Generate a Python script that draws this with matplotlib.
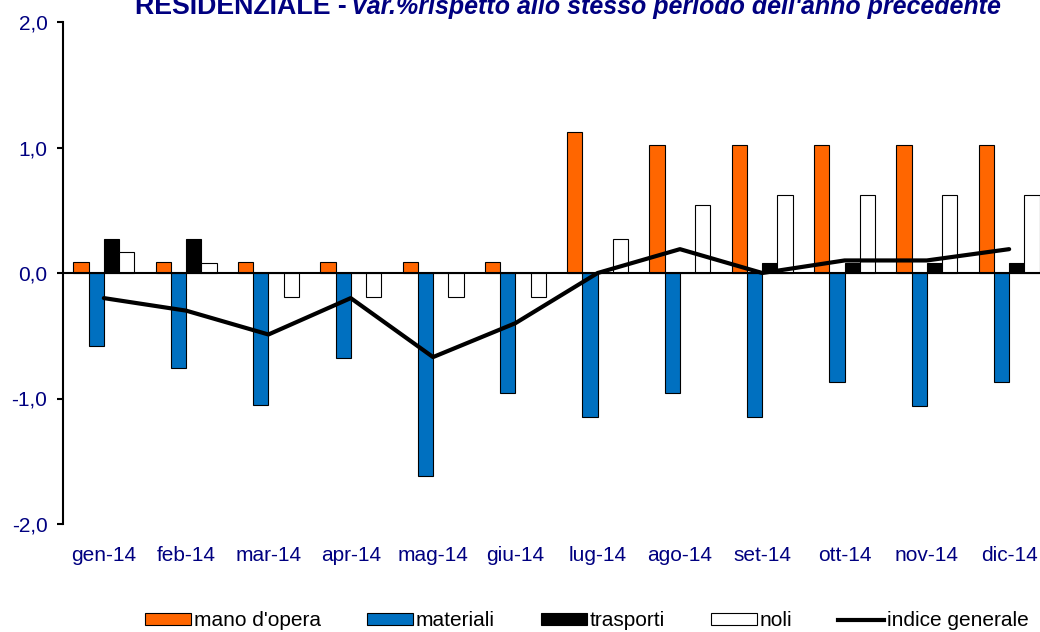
import numpy as np
import matplotlib
matplotlib.use("Agg")
import matplotlib.pyplot as plt
from matplotlib.patches import Patch
from matplotlib.lines import Line2D

plt.rcParams['font.family'] = ['Liberation Sans', 'DejaVu Sans']

months = ["gen-14", "feb-14", "mar-14", "apr-14", "mag-14", "giu-14",
          "lug-14", "ago-14", "set-14", "ott-14", "nov-14", "dic-14"]

# valori (var. % sullo stesso periodo dell'anno precedente)
mano_opera = [0.09, 0.09, 0.09, 0.09, 0.09, 0.09, 1.12, 1.02, 1.02, 1.02, 1.02, 1.02]
materiali = [-0.58, -0.76, -1.05, -0.68, -1.62, -0.96, -1.15, -0.96, -1.15, -0.87, -1.06, -0.87]
trasporti = [0.27, 0.27, 0.0, 0.0, 0.0, 0.0, 0.0, 0.0, 0.08, 0.08, 0.08, 0.08]
noli = [0.17, 0.08, -0.19, -0.19, -0.19, -0.19, 0.27, 0.54, 0.62, 0.62, 0.62, 0.62]
indice = [-0.2, -0.3, -0.49, -0.2, -0.67, -0.4, 0.0, 0.19, 0.0, 0.1, 0.1, 0.19]

yticks = [-2.0, -1.0, 0.0, 1.0, 2.0]

NAVY = "#000080"
ORANGE = "#FF6600"
BLUE = "#0070C0"
FS = 15

fig = plt.figure(figsize=(10.4, 6.32), dpi=100)
ax = fig.add_axes([62.7 / 1040, 1 - 524 / 632, 987.6 / 1040, 502 / 632])

x = np.arange(len(months))
w = 0.185
edge = dict(edgecolor="black", linewidth=0.8, zorder=2)
ax.bar(x - 1.5 * w, mano_opera, w, color=ORANGE, **edge)
ax.bar(x - 0.5 * w, materiali, w, color=BLUE, **edge)
ax.bar(x + 0.5 * w, trasporti, w, color="black", **edge)
ax.bar(x + 1.5 * w, noli, w, color="white", **edge)

ax.axhline(0, color="black", linewidth=1.5, zorder=3)
ax.plot(x, indice, color="black", linewidth=3, zorder=4, solid_capstyle="round")

ax.set_xlim(-0.5, len(months) - 0.5)
ax.set_ylim(-2.0, 2.0)
ax.set_yticks(yticks)
ax.set_yticklabels([f"{v:.1f}".replace(".", ",") for v in yticks])
ax.set_xticks(x)
ax.set_xticklabels(months)

for s in ["top", "right", "bottom"]:
    ax.spines[s].set_visible(False)
ax.spines["left"].set_linewidth(1.5)
ax.tick_params(axis="y", direction="out", length=4, width=1.5, pad=7,
               labelsize=FS, labelcolor=NAVY)
ax.tick_params(axis="x", length=0, pad=16, labelsize=FS, labelcolor=NAVY)

# titolo (tagliato in alto come nell'originale)
fig.text(347 / 1040, 1 - 14 / 632, "RESIDENZIALE -", color=NAVY,
         fontsize=19.3, fontweight="bold", ha="right", va="baseline")
fig.text(351 / 1040, 1 - 14 / 632,
         "Var.%rispetto allo stesso periodo dell'anno precedente",
         color=NAVY, fontsize=18, fontweight="bold", fontstyle="italic",
         ha="left", va="baseline")

handles = [
    Patch(facecolor=ORANGE, edgecolor="black", linewidth=0.8),
    Patch(facecolor=BLUE, edgecolor="black", linewidth=0.8),
    Patch(facecolor="black", edgecolor="black", linewidth=0.8),
    Patch(facecolor="white", edgecolor="black", linewidth=0.8),
    Line2D([0], [0], color="black", linewidth=3),
]
labels = ["mano d'opera", "materiali", "trasporti", "noli", "indice generale"]
fig.legend(handles, labels, loc="center", bbox_to_anchor=(587 / 1040, 1 - 621 / 632),
           ncol=5, frameon=False, fontsize=FS, handlelength=2.2,
           handleheight=0.5, handletextpad=0.15, columnspacing=2.2,
           borderpad=0, borderaxespad=0)

fig.savefig("out.png", dpi=100)
